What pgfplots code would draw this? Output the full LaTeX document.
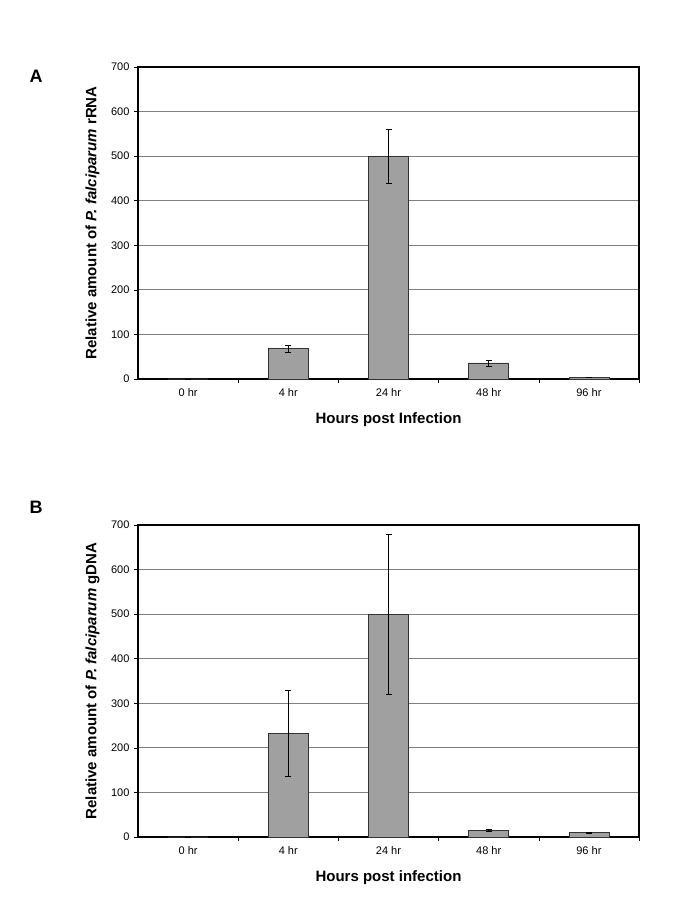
\documentclass[border=0pt]{standalone}
\usepackage{fontspec}
\setmainfont{Liberation Sans}
\usepackage{pgfplots}
\pgfplotsset{compat=1.18}
\definecolor{barfill}{HTML}{A0A0A0}
\definecolor{gridc}{HTML}{808080}
\pgfplotsset{
  panel/.style={
    scale only axis,
    width=501pt, height=312pt,
    anchor=south west,
    xmin=-0.5, xmax=4.5,
    ymin=0, ymax=700,
    ytick={0,100,...,700},
    xtick={0,1,2,3,4},
    xticklabels={0 hr,4 hr,24 hr,48 hr,96 hr},
    minor xtick={0.5,1.5,2.5,3.5,4.5},
    xtick pos=lower, ytick pos=left,
    major x tick style={draw=none},
    minor x tick style={black, line width=0.6pt},
    minor tick length=4pt,
    major tick length=4pt,
    y tick style={black, line width=0.6pt},
    tick align=outside,
    ymajorgrids,
    grid style={gridc, line width=0.8pt},
    axis line style={black, line width=1.1pt},
    /pgf/number format/assume math mode=true,
    tick label style={font=\fontsize{11}{13}\selectfont, text=black},
    xticklabel style={yshift=-2pt},
    yticklabel style={xshift=-1pt},
    ylabel style={at={(axis description cs:-0.091,0.5)}, anchor=center, font=\fontsize{15}{17}\selectfont\bfseries},
    xlabel style={at={(axis description cs:0.5,-0.131)}, anchor=center, font=\fontsize{15}{17}\selectfont\bfseries},
    ybar, bar width=40pt,
    clip=false,
  },
  barstyle/.style={
    fill=barfill, draw=black!80, line width=0.6pt,
    error bars/.cd, y dir=both, y explicit,
    error bar style={black, line width=0.6pt},
    error mark options={black, line width=0.6pt, mark size=3pt, rotate=90},
  },
}
\begin{document}
\begin{tikzpicture}
\useasboundingbox (0,0) rectangle (684pt,909pt);
\node[font=\fontsize{18}{20}\selectfont\bfseries] at (36pt,833pt) {A};
\node[font=\fontsize{18}{20}\selectfont\bfseries] at (36pt,402pt) {B};
\begin{axis}[panel, at={(138pt,530pt)},
  ylabel={Relative amount of \textit{P. falciparum} rRNA},
  xlabel={Hours post Infection}]
\addplot[barstyle] coordinates {
  (0,0) +- (0,0)
  (1,68) +- (0,8)
  (2,500) +- (0,60)
  (3,36) +- (0,7)
  (4,4) +- (0,0)
};
\end{axis}
\begin{axis}[panel, at={(138pt,72pt)},
  ylabel={Relative amount of \textit{P. falciparum} gDNA},
  xlabel={Hours post infection}]
\addplot[barstyle] coordinates {
  (0,0) +- (0,0)
  (1,233) +- (0,96)
  (2,500) +- (0,180)
  (3,15) +- (0,3)
  (4,9.5) +- (0,2)
};
\end{axis}
\end{tikzpicture}
\end{document}
